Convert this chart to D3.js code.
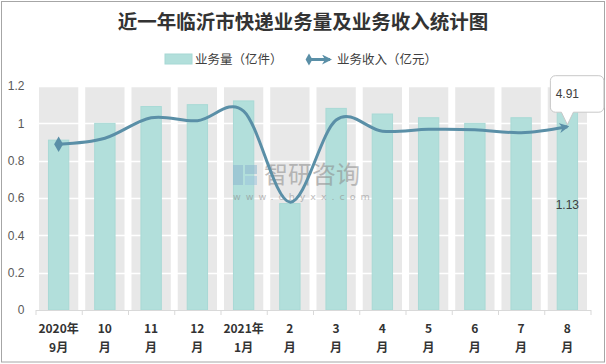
<!DOCTYPE html>
<html>
<head>
<meta charset="utf-8">
<script src="https://cdn.jsdelivr.net/npm/d3@7"></script>
<style>
  body { margin: 0; background: #fff; }
  svg { display: block; }
</style>
</head>
<body>
<script>
'use strict';

const w = 606;
const h = 364;

// data
const months = ['2020年\n9月', '10\n月', '11\n月', '12\n月', '2021年\n1月', '2\n月', '3\n月', '4\n月', '5\n月', '6\n月', '7\n月', '8\n月'];
const volume = [0.91, 1.00, 1.09, 1.10, 1.12, 0.57, 1.08, 1.05, 1.03, 1.00, 1.03, 1.13];   // 业务量（亿件）
const revenue = [4.44, 4.60, 5.15, 5.07, 5.33, 2.89, 5.09, 4.79, 4.84, 4.83, 4.75, 4.91];  // 业务收入（亿元）
const yTicks = [0, 0.2, 0.4, 0.6, 0.8, 1, 1.2];
const revenueMax = 6; // hidden secondary axis

const plotLeft = 35.5;
const plotRight = 590.5;
const plotTop = 86;
const plotBottom = 310;

const font = "'Noto Sans CJK SC', 'Noto Sans', sans-serif";
const barFill = '#b2dfdb';
const lineColor = '#5a8fa7';

const svg = d3.select('body').append('svg').attr('width', w).attr('height', h);

// outer frame
svg.append('rect')
  .attr('x', 1.5).attr('y', 1.5)
  .attr('width', w - 3).attr('height', h - 3.5)
  .attr('fill', '#fff')
  .attr('stroke', '#a6a6a6');

const x = d3.scaleBand().domain(months).range([plotLeft, plotRight]);
const y = d3.scaleLinear().domain([0, 1.2]).range([plotBottom, plotTop]);
const y2 = d3.scaleLinear().domain([0, revenueMax]).range([plotBottom, plotTop]);
const edge = d3.scaleLinear().domain([0, months.length]).range([plotLeft, plotRight]);

const bw = x.bandwidth();
const cx = (d) => x(d) + bw / 2;

// title
svg.append('text')
  .text('近一年临沂市快递业务量及业务收入统计图')
  .attr('x', 303).attr('y', 29)
  .attr('text-anchor', 'middle')
  .attr('font-family', font)
  .attr('font-weight', 'bold')
  .attr('font-size', 19.5)
  .attr('fill', '#333');

// legend
const leg = svg.append('g').attr('font-family', font).attr('font-size', 12.5).attr('fill', '#404040');
leg.append('rect')
  .attr('x', 165).attr('y', 54).attr('width', 27).attr('height', 10)
  .attr('fill', barFill).attr('stroke', '#a6d8d4');
leg.append('text').text('业务量（亿件）').attr('x', 195).attr('y', 63.5);

// grey column backgrounds
svg.append('g')
  .selectAll('rect')
  .data(months)
  .enter()
  .append('rect')
  .attr('x', (d) => cx(d) - bw * 0.425)
  .attr('width', bw * 0.85)
  .attr('y', y(1.2))
  .attr('height', y(0) - y(1.2))
  .attr('fill', '#e8e8e8');

// horizontal grid (white over the grey)
svg.append('g')
  .selectAll('line')
  .data(yTicks.slice(1))
  .enter()
  .append('line')
  .attr('x1', plotLeft).attr('x2', plotRight)
  .attr('y1', (d) => Math.round(y(d)) + 0.5)
  .attr('y2', (d) => Math.round(y(d)) + 0.5)
  .attr('stroke', '#fff')
  .attr('stroke-width', 1.5);

// volume bars
svg.append('g')
  .selectAll('rect')
  .data(volume)
  .enter()
  .append('rect')
  .attr('x', (d, i) => cx(months[i]) - bw * 0.22)
  .attr('width', bw * 0.44)
  .attr('y', (d) => y(d))
  .attr('height', (d) => y(0) - y(d))
  .attr('fill', barFill)
  .attr('stroke', '#a8d9d5')
  .attr('stroke-width', 1);

// watermark
const wm = svg.append('g').attr('opacity', 0.55);
wm.append('rect').attr('x', 233).attr('y', 165).attr('width', 10).attr('height', 20).attr('fill', '#8fb7d0');
wm.append('rect').attr('x', 245).attr('y', 165).attr('width', 12).attr('height', 9).attr('fill', '#8fb7d0');
wm.append('rect').attr('x', 245).attr('y', 176).attr('width', 12).attr('height', 9).attr('fill', '#9cc4dc');
wm.append('text')
  .text('智研咨询')
  .attr('x', 264).attr('y', 183)
  .attr('font-family', font)
  .attr('font-size', 24)
  .attr('fill', '#8a8a8a');
wm.append('text')
  .text('www.chyxx.com')
  .attr('x', 233).attr('y', 200)
  .attr('font-family', "'DejaVu Sans', sans-serif")
  .attr('font-size', 9.5)
  .attr('letter-spacing', 5)
  .attr('fill', '#8a8a8a');

// y axis
svg.append('g')
  .attr('transform', `translate(${plotLeft},0)`)
  .call(d3.axisLeft(y).tickValues(yTicks).tickFormat(d3.format('~g')).tickSize(0).tickPadding(11))
  .call((g) => g.select('.domain').remove())
  .call((g) => g.selectAll('text')
    .attr('font-family', "'Liberation Sans', 'Noto Sans', sans-serif")
    .attr('font-size', 12)
    .attr('fill', '#595959'));

// x axis: line + boundary ticks
svg.append('g')
  .attr('transform', `translate(0,${plotBottom})`)
  .call(d3.axisBottom(edge).tickValues(d3.range(months.length + 1)).tickFormat('').tickSize(5).tickSizeOuter(0))
  .call((g) => g.selectAll('line, path').attr('stroke', '#d9d9d9'));

// x labels on two lines
svg.append('g')
  .selectAll('text')
  .data(months)
  .enter()
  .append('text')
  .attr('text-anchor', 'middle')
  .attr('font-family', font)
  .attr('font-weight', 'bold')
  .attr('font-size', 12)
  .attr('fill', '#333')
  .each(function (d) {
    const parts = d.split('\n');
    d3.select(this).selectAll('tspan')
      .data(parts)
      .enter()
      .append('tspan')
      .attr('x', cx(d))
      .attr('y', (p, i) => 333 + i * 19)
      .text((p) => p);
  });

// arrow head for the revenue line
const defs = svg.append('defs');
defs.append('marker')
  .attr('id', 'arrow')
  .attr('viewBox', '0 0 10 10')
  .attr('refX', 8).attr('refY', 5)
  .attr('markerUnits', 'userSpaceOnUse')
  .attr('markerWidth', 10).attr('markerHeight', 10)
  .attr('orient', 'auto')
  .append('path')
  .attr('d', 'M0,0 L10,5 L0,10 L3,5 Z')
  .attr('fill', lineColor);

// revenue line
const line = d3.line()
  .x((d, i) => cx(months[i]))
  .y((d) => y2(d))
  .curve(d3.curveCardinal.tension(0));

svg.append('path')
  .datum(revenue)
  .attr('d', line)
  .attr('fill', 'none')
  .attr('stroke', lineColor)
  .attr('stroke-width', 3)
  .attr('marker-end', 'url(#arrow)');

svg.append('path')
  .attr('d', d3.symbol(d3.symbolDiamond, 70)())
  .attr('transform', `translate(${cx(months[0])},${y2(revenue[0])})`)
  .attr('fill', lineColor);

// legend for the line
leg.append('line')
  .attr('x1', 308).attr('x2', 330).attr('y1', 59.5).attr('y2', 59.5)
  .attr('stroke', lineColor).attr('stroke-width', 3)
  .attr('marker-end', 'url(#arrow)');
leg.append('path')
  .attr('d', d3.symbol(d3.symbolDiamond, 40)())
  .attr('transform', 'translate(309,59.5)')
  .attr('fill', lineColor);
leg.append('text').text('业务收入（亿元）').attr('x', 337).attr('y', 63.5);

// label inside last bar
const last = volume.length - 1;
svg.append('text')
  .text(volume[last].toFixed(2))
  .attr('x', cx(months[last]))
  .attr('y', y(volume[last] / 2) + 4)
  .attr('text-anchor', 'middle')
  .attr('font-family', "'Liberation Sans', sans-serif")
  .attr('font-size', 12)
  .attr('fill', '#404040');

// callout for the last revenue point
const tx = cx(months[last]);
const ty = y2(revenue[last]) - 2;
const bx0 = tx - 17;
const bx1 = tx + 36.5;
const by0 = ty - 49;
const by1 = ty - 12.5;
const r = 5;
const callout = d3.path();
callout.moveTo(bx0 + r, by0);
callout.lineTo(bx1 - r, by0);
callout.arcTo(bx1, by0, bx1, by0 + r, r);
callout.lineTo(bx1, by1 - r);
callout.arcTo(bx1, by1, bx1 - r, by1, r);
callout.lineTo(tx + 6, by1);
callout.lineTo(tx, ty);
callout.lineTo(tx - 6, by1);
callout.lineTo(bx0 + r, by1);
callout.arcTo(bx0, by1, bx0, by1 - r, r);
callout.lineTo(bx0, by0 + r);
callout.arcTo(bx0, by0, bx0 + r, by0, r);
callout.closePath();

svg.append('path')
  .attr('d', callout.toString())
  .attr('fill', '#fff')
  .attr('stroke', '#c8c8c8');

svg.append('text')
  .text(revenue[last].toFixed(2))
  .attr('x', tx)
  .attr('y', by0 + 22)
  .attr('text-anchor', 'middle')
  .attr('font-family', "'Liberation Sans', sans-serif")
  .attr('font-size', 12)
  .attr('fill', '#404040');
</script>
</body>
</html>
